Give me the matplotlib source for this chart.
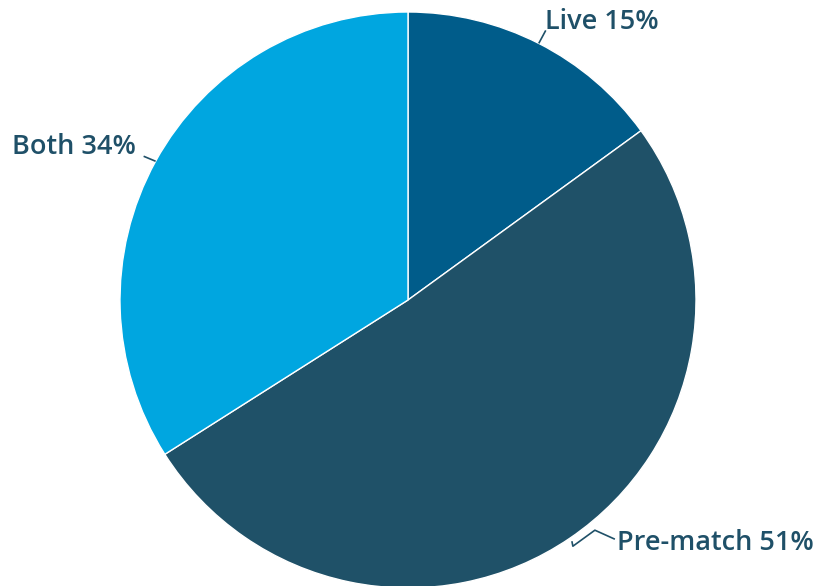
import numpy as np
import matplotlib
matplotlib.use("Agg")
import matplotlib.pyplot as plt

labels = ["Live", "Pre-match", "Both"]
shares = [15, 51, 34]
colors = ["#005c8a", "#1f5168", "#00a6e0"]

W, H = 818, 586
CX, CY, R = 408, H - 300, 288
TEXT_COLOR = "#1f5068"

plt.rcParams["font.family"] = ["Open Sans", "DejaVu Sans"]

fig = plt.figure(figsize=(W / 100, H / 100), dpi=100)
ax = fig.add_axes([0, 0, 1, 1])
ax.set_xlim(0, W)
ax.set_ylim(0, H)
ax.set_aspect("equal")
ax.axis("off")

wedges, _ = ax.pie(shares, colors=colors, startangle=90, counterclock=False,
                   center=(CX, CY), radius=R,
                   wedgeprops=dict(edgecolor="white", linewidth=1))
ax.set_xlim(0, W)
ax.set_ylim(0, H)

# leader lines start at each wedge's mid angle; offsets are (dx, dy) in pixels
leaders = {
    "Live": [(0, 0), (7, 13)],
    "Pre-match": [(2, -3), (3, -8), (25, 8), (45, -1)],
    "Both": [(0, 0), (-12, 5)],
}
text_pos = {
    "Live": (545, H - 22),
    "Pre-match": (617, H - 543),
    "Both": (12, H - 147),
}

for w, lab, s in zip(wedges, labels, shares):
    mid = np.deg2rad((w.theta1 + w.theta2) / 2)
    ax_, ay_ = CX + R * np.cos(mid), CY + R * np.sin(mid)
    pts = np.array(leaders[lab], dtype=float)
    ax.plot(ax_ + pts[:, 0], ay_ + pts[:, 1], color=TEXT_COLOR, lw=1.2,
            solid_capstyle="butt", clip_on=False)
    ax.text(*text_pos[lab], f"{lab} {s}%", ha="left", va="center",
            fontsize=19.5, fontweight="semibold", color=TEXT_COLOR)

fig.savefig("out.png", dpi=100)
